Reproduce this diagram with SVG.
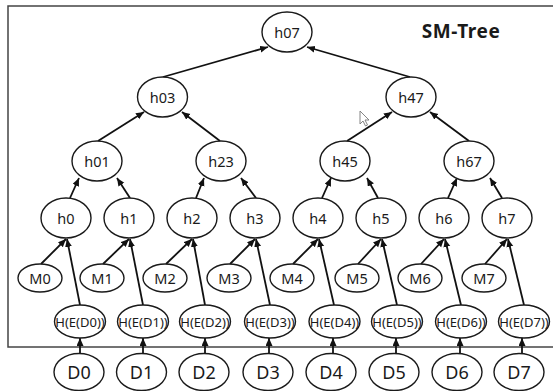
<svg xmlns="http://www.w3.org/2000/svg" width="553" height="391" viewBox="0 0 553 391">
<style>
ellipse{fill:#fff;stroke:#1a1a1a;stroke-width:1.4}
text{font-family:"Noto Sans","DejaVu Sans",sans-serif;fill:#1a1a1a;text-anchor:middle;dominant-baseline:central}
.h text{font-size:14.5px}
.m text{font-size:14.5px}
.e text{font-size:13px}
.d text{font-size:18px}
#connectors line{stroke:#111;stroke-width:1.8;marker-end:url(#ah)}
</style>
<defs>
<marker id="ah" markerUnits="userSpaceOnUse" markerWidth="9" markerHeight="8" refX="8" refY="3.5" orient="auto">
<path d="M0,0 L8,3.5 L0,7 z" fill="#111"/>
</marker>
</defs>
<rect x="8" y="6" width="560" height="341" fill="#fff" stroke="#444" stroke-width="1.5"/>
<text x="461" y="31" style="font-size:19px;font-weight:bold;letter-spacing:0.6px">SM-Tree</text>
<g id="connectors">
<line x1="163" y1="77" x2="268" y2="47"/>
<line x1="410" y1="77" x2="307" y2="47"/>
<line x1="98" y1="141" x2="144" y2="112"/>
<line x1="220" y1="141" x2="182" y2="112"/>
<line x1="347" y1="141" x2="392" y2="112"/>
<line x1="469" y1="141" x2="430" y2="112"/>
<line x1="70" y1="198" x2="79" y2="178"/>
<line x1="130" y1="198" x2="117" y2="178"/>
<line x1="196" y1="198" x2="204" y2="178"/>
<line x1="256" y1="198" x2="241" y2="178"/>
<line x1="322" y1="198" x2="331" y2="178"/>
<line x1="378" y1="198" x2="367" y2="178"/>
<line x1="448" y1="198" x2="457" y2="178"/>
<line x1="502" y1="198" x2="490" y2="178"/>
<line x1="41" y1="264" x2="66" y2="239"/>
<line x1="103" y1="264" x2="129" y2="239"/>
<line x1="166" y1="264" x2="192" y2="239"/>
<line x1="230" y1="264" x2="255" y2="239"/>
<line x1="293" y1="264" x2="318" y2="239"/>
<line x1="358" y1="264" x2="381" y2="239"/>
<line x1="421" y1="264" x2="444" y2="239"/>
<line x1="485" y1="264" x2="507" y2="239"/>
<line x1="80" y1="305" x2="67" y2="239"/>
<line x1="143" y1="305" x2="130" y2="239"/>
<line x1="205" y1="305" x2="193" y2="239"/>
<line x1="270" y1="305" x2="256" y2="239"/>
<line x1="334" y1="305" x2="319" y2="239"/>
<line x1="397" y1="305" x2="382" y2="239"/>
<line x1="461" y1="305" x2="445" y2="239"/>
<line x1="524" y1="305" x2="508" y2="239"/>
<line x1="80" y1="354" x2="80" y2="338"/>
<line x1="143" y1="354" x2="143" y2="338"/>
<line x1="205" y1="354" x2="205" y2="338"/>
<line x1="269" y1="354" x2="269" y2="338"/>
<line x1="333" y1="354" x2="333" y2="338"/>
<line x1="396" y1="354" x2="396" y2="338"/>
<line x1="460" y1="354" x2="460" y2="338"/>
<line x1="522" y1="354" x2="522" y2="338"/>
</g>
<g class="h">
<g id="h07"><ellipse cx="287" cy="32" rx="25" ry="20"/><text x="287" y="32">h07</text></g>
<g id="h03"><ellipse cx="162.5" cy="97" rx="25" ry="20"/><text x="162.5" y="97">h03</text></g>
<g id="h47"><ellipse cx="411" cy="97" rx="25" ry="20"/><text x="411" y="97">h47</text></g>
<g id="h01"><ellipse cx="97" cy="161" rx="25" ry="20"/><text x="97" y="161">h01</text></g>
<g id="h23"><ellipse cx="221" cy="161" rx="25" ry="20"/><text x="221" y="161">h23</text></g>
<g id="h45"><ellipse cx="345" cy="161" rx="25" ry="20"/><text x="345" y="161">h45</text></g>
<g id="h67"><ellipse cx="469" cy="161" rx="25" ry="20"/><text x="469" y="161">h67</text></g>
<g id="h0"><ellipse cx="66" cy="218" rx="25" ry="20"/><text x="66" y="218">h0</text></g>
<g id="h1"><ellipse cx="129" cy="218" rx="25" ry="20"/><text x="129" y="218">h1</text></g>
<g id="h2"><ellipse cx="192" cy="218" rx="25" ry="20"/><text x="192" y="218">h2</text></g>
<g id="h3"><ellipse cx="255" cy="218" rx="25" ry="20"/><text x="255" y="218">h3</text></g>
<g id="h4"><ellipse cx="318" cy="218" rx="25" ry="20"/><text x="318" y="218">h4</text></g>
<g id="h5"><ellipse cx="381" cy="218" rx="25" ry="20"/><text x="381" y="218">h5</text></g>
<g id="h6"><ellipse cx="444" cy="218" rx="25" ry="20"/><text x="444" y="218">h6</text></g>
<g id="h7"><ellipse cx="507" cy="218" rx="25" ry="20"/><text x="507" y="218">h7</text></g>
</g>
<g class="m">
<g id="M0"><ellipse cx="40" cy="278" rx="22" ry="14"/><text x="40" y="278">M0</text></g>
<g id="M1"><ellipse cx="102" cy="278" rx="22" ry="14"/><text x="102" y="278">M1</text></g>
<g id="M2"><ellipse cx="165" cy="278" rx="22" ry="14"/><text x="165" y="278">M2</text></g>
<g id="M3"><ellipse cx="229" cy="278" rx="22" ry="14"/><text x="229" y="278">M3</text></g>
<g id="M4"><ellipse cx="292" cy="278" rx="22" ry="14"/><text x="292" y="278">M4</text></g>
<g id="M5"><ellipse cx="357" cy="278" rx="22" ry="14"/><text x="357" y="278">M5</text></g>
<g id="M6"><ellipse cx="420" cy="278" rx="22" ry="14"/><text x="420" y="278">M6</text></g>
<g id="M7"><ellipse cx="484" cy="278" rx="22" ry="14"/><text x="484" y="278">M7</text></g>
</g>
<g class="e">
<g id="E0"><ellipse cx="80" cy="321.5" rx="25.5" ry="16.5"/><text x="80" y="321.5">H(E(D0))</text></g>
<g id="E1"><ellipse cx="143" cy="321.5" rx="25.5" ry="16.5"/><text x="143" y="321.5">H(E(D1))</text></g>
<g id="E2"><ellipse cx="205" cy="321.5" rx="25.5" ry="16.5"/><text x="205" y="321.5">H(E(D2))</text></g>
<g id="E3"><ellipse cx="270" cy="321.5" rx="25.5" ry="16.5"/><text x="270" y="321.5">H(E(D3))</text></g>
<g id="E4"><ellipse cx="334.5" cy="321.5" rx="25.5" ry="16.5"/><text x="334.5" y="321.5">H(E(D4))</text></g>
<g id="E5"><ellipse cx="397" cy="321.5" rx="25.5" ry="16.5"/><text x="397" y="321.5">H(E(D5))</text></g>
<g id="E6"><ellipse cx="461" cy="321.5" rx="25.5" ry="16.5"/><text x="461" y="321.5">H(E(D6))</text></g>
<g id="E7"><ellipse cx="524" cy="321.5" rx="25.5" ry="16.5"/><text x="524" y="321.5">H(E(D7))</text></g>
</g>
<g class="d">
<g id="D0"><ellipse cx="79" cy="372" rx="25" ry="18.5"/><text x="79" y="372">D0</text></g>
<g id="D1"><ellipse cx="141.5" cy="372" rx="25" ry="18.5"/><text x="141.5" y="372">D1</text></g>
<g id="D2"><ellipse cx="204" cy="372" rx="25" ry="18.5"/><text x="204" y="372">D2</text></g>
<g id="D3"><ellipse cx="268" cy="372" rx="25" ry="18.5"/><text x="268" y="372">D3</text></g>
<g id="D4"><ellipse cx="331" cy="372" rx="25" ry="18.5"/><text x="331" y="372">D4</text></g>
<g id="D5"><ellipse cx="394" cy="372" rx="25" ry="18.5"/><text x="394" y="372">D5</text></g>
<g id="D6"><ellipse cx="457" cy="372" rx="25" ry="18.5"/><text x="457" y="372">D6</text></g>
<g id="D7"><ellipse cx="519" cy="372" rx="25" ry="18.5"/><text x="519" y="372">D7</text></g>
</g>
<path d="M360,111 L360,124 L363,121 L365.5,126 L367.5,125 L365,120 L369,120 Z" fill="#fff" stroke="#777" stroke-width="0.9"/>
</svg>
